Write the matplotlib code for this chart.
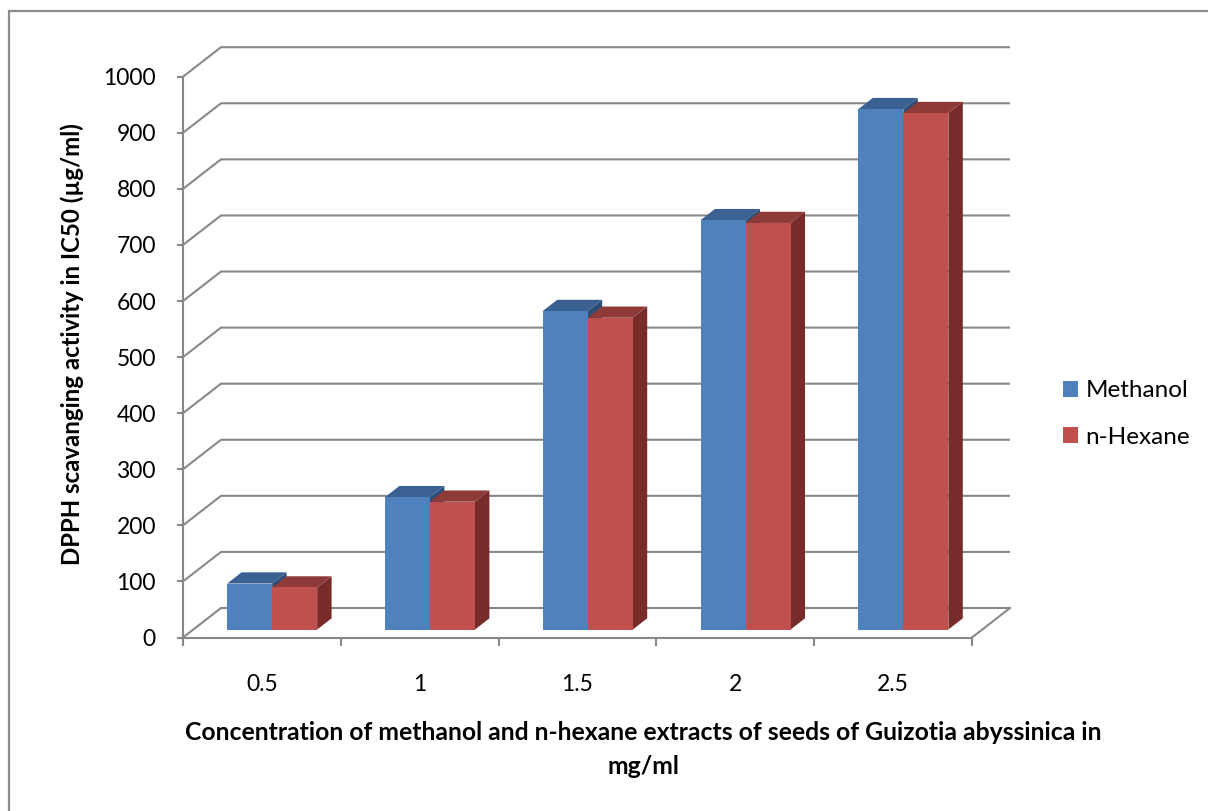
import matplotlib.pyplot as plt
from matplotlib.patches import Polygon, Rectangle, Patch

concentrations = ['0.5', '1', '1.5', '2', '2.5']
methanol = [82, 236, 568, 730, 928]
hexane = [75, 228, 556, 725, 921]
series_names = ['Methanol', 'n-Hexane']
y_ticks = list(range(0, 1001, 100))

# face colours: front, top, side
blue = ('#4F81BD', '#3A6192', '#2C4D75')
red = ('#C0504D', '#8E3A38', '#772C2A')
grid_col = '#888888'

plt.rcParams['font.family'] = ['Lato', 'DejaVu Sans']

W, H = 1208, 811
fig = plt.figure(figsize=(W / 100, H / 100), dpi=100)

# front plane of the box, in pixels
left, right, bottom, top = 183, 972, 637.5, 76.7
ax = fig.add_axes([left / W, 1 - bottom / H, (right - left) / W, (bottom - top) / H])
n = len(concentrations)
ax.set_xlim(0, n)
ax.set_ylim(0, 1000)

# depth vector of the oblique projection, in data units
px_x = n / (right - left)
px_y = 1000 / (bottom - top)
DX, DY = 38 * px_x, 29.5 * px_y

# side wall + back wall gridlines
for v in y_ticks:
    ax.plot([0, DX, n + DX], [v + 0, v + DY, v + DY], color=grid_col, lw=1.5,
            clip_on=False, zorder=1, solid_capstyle='butt')
# right edge of the floor
ax.plot([n + DX, n], [DY, 0], color=grid_col, lw=1.5, clip_on=False, zorder=1)

# bars sit part way into the depth
d0 = 0.27
bd = 0.38
w = 45 * px_x


def box(x0, x1, val, cols):
    y0 = d0 * DY
    y1 = val + d0 * DY
    x0 += d0 * DX
    x1 += d0 * DX
    bx, by = bd * DX, bd * DY
    ax.add_patch(Polygon([(x1, y0), (x1 + bx, y0 + by), (x1 + bx, y1 + by), (x1, y1)],
                         closed=True, fc=cols[2], ec='none', zorder=3, clip_on=False))
    ax.add_patch(Polygon([(x0, y1), (x1, y1), (x1 + bx, y1 + by), (x0 + bx, y1 + by)],
                         closed=True, fc=cols[1], ec='none', zorder=3, clip_on=False))
    ax.add_patch(Rectangle((x0, y0), x1 - x0, y1 - y0, fc=cols[0], ec='none',
                           zorder=3, clip_on=False))


for i in range(n):
    c = i + 0.5
    box(c - w, c, methanol[i], blue)
    box(c, c + w, hexane[i], red)

for s in ['top', 'right']:
    ax.spines[s].set_visible(False)
for s in ['left', 'bottom']:
    ax.spines[s].set_color(grid_col)
    ax.spines[s].set_linewidth(1.5)
    ax.spines[s].set_zorder(2)

ax.set_yticks(y_ticks)
ax.set_yticklabels([str(v) for v in y_ticks])
ax.tick_params(axis='y', length=4.5, width=1.5, color=grid_col, labelsize=16.5, pad=15)

ax.set_xticks(range(n + 1))
ax.set_xticklabels([''] * (n + 1))
ax.tick_params(axis='x', which='major', length=6, width=1.5, color=grid_col)
ax.set_xticks([i + 0.5 for i in range(n)], minor=True)
ax.set_xticklabels(concentrations, minor=True)
ax.tick_params(axis='x', which='minor', length=0, labelsize=16.5, pad=26)

ax.set_facecolor('none')

fig.text(72 / W, 1 - 344 / H, 'DPPH scavanging activity in IC50 (µg/ml)',
         rotation=90, ha='center', va='center', fontsize=17.3, fontweight='bold')
fig.text(643 / W, 1 - 733 / H,
         'Concentration of methanol and n-hexane extracts of seeds of Guizotia abyssinica in',
         ha='center', va='center', fontsize=17.8, fontweight='bold')
fig.text(643 / W, 1 - 767 / H, 'mg/ml', ha='center', va='center',
         fontsize=17.8, fontweight='bold')

handles = [Patch(fc=blue[0], ec='none'), Patch(fc=red[0], ec='none')]
fig.legend(handles, series_names, loc='center left', frameon=False,
           bbox_to_anchor=(1063 / W, 1 - 414 / H), fontsize=17.5,
           handlelength=0.62, handleheight=0.62, handletextpad=0.3,
           labelspacing=1.05, borderpad=0, borderaxespad=0)

# chart area border
fig.patches.append(Rectangle((9 / W, -0.05), 1.1, 1 - 11 / H + 0.05,
                             transform=fig.transFigure, fill=False,
                             ec='#8c8c8c', lw=1.6))

fig.savefig('out.png', dpi=100)
